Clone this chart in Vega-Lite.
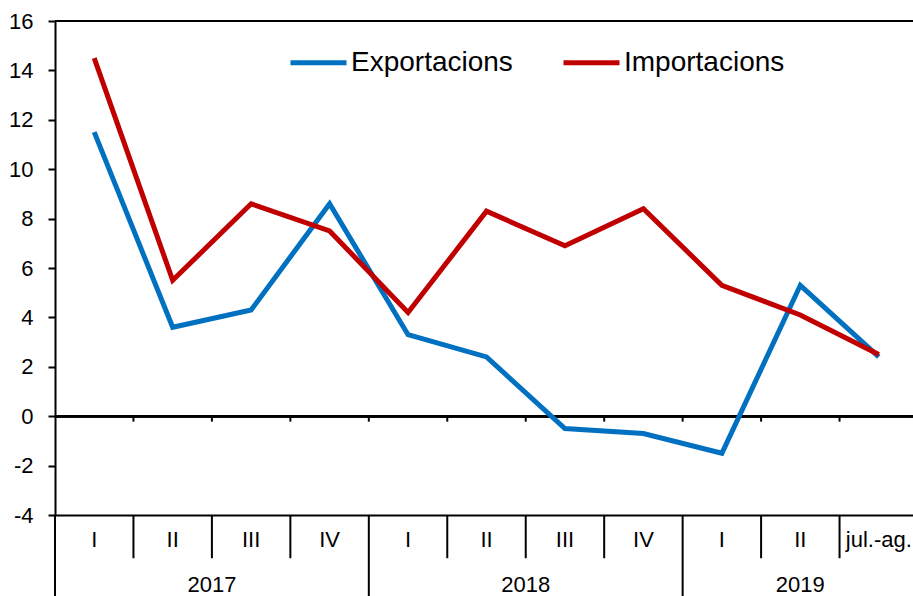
{
  "$schema": "https://vega.github.io/schema/vega-lite/v6.json",
  "width": 858,
  "height": 494,
  "autosize": {"type": "none"},
  "padding": {"left": 55, "top": 21, "right": 0, "bottom": 81},
  "background": "white",
  "config": {
    "view": {"stroke": null},
    "font": "Liberation Sans",
    "axis": {"domainColor": "black", "domainWidth": 2, "labelColor": "black", "labelFont": "Liberation Sans", "labelFontSize": 22, "grid": false, "title": null},
    "axisX": {"ticks": false, "labelPadding": 14, "labelAngle": 0, "labelOverlap": false},
    "axisY": {"tickSize": 7, "tickColor": "black", "tickWidth": 2, "labelPadding": 15}
  },
  "data": {
    "values": [
      {"cat": "2017|I", "year": "2017", "q": "I", "Exportacions": 11.5, "Importacions": 14.5},
      {"cat": "2017|II", "year": "2017", "q": "II", "Exportacions": 3.6, "Importacions": 5.5},
      {"cat": "2017|III", "year": "2017", "q": "III", "Exportacions": 4.3, "Importacions": 8.6},
      {"cat": "2017|IV", "year": "2017", "q": "IV", "Exportacions": 8.6, "Importacions": 7.5},
      {"cat": "2018|I", "year": "2018", "q": "I", "Exportacions": 3.3, "Importacions": 4.2},
      {"cat": "2018|II", "year": "2018", "q": "II", "Exportacions": 2.4, "Importacions": 8.3},
      {"cat": "2018|III", "year": "2018", "q": "III", "Exportacions": -0.5, "Importacions": 6.9},
      {"cat": "2018|IV", "year": "2018", "q": "IV", "Exportacions": -0.7, "Importacions": 8.4},
      {"cat": "2019|I", "year": "2019", "q": "I", "Exportacions": -1.5, "Importacions": 5.3},
      {"cat": "2019|II", "year": "2019", "q": "II", "Exportacions": 5.3, "Importacions": 4.1},
      {"cat": "2019|jul.-ag.", "year": "2019", "q": "jul.-ag.", "Exportacions": 2.4, "Importacions": 2.5}
    ]
  },
  "layer": [
    {
      "mark": {"type": "rule", "color": "black", "strokeWidth": 2},
      "encoding": {"y": {"datum": 16, "type": "quantitative"}}
    },
    {
      "mark": {"type": "rule", "color": "black", "strokeWidth": 2},
      "encoding": {"y": {"datum": 0, "type": "quantitative"}}
    },
    {
      "transform": [{"filter": "datum.cat != '2017|I'"}],
      "mark": {"type": "rule", "color": "black", "strokeWidth": 2},
      "encoding": {
        "x": {"field": "cat", "type": "nominal", "bandPosition": 0, "sort": null, "title": null,
          "scale": {"type": "band", "paddingInner": 0, "paddingOuter": 0, "range": [0, 863],
            "domain": ["2017|I", "2017|II", "2017|III", "2017|IV", "2018|I", "2018|II", "2018|III", "2018|IV", "2019|I", "2019|II", "2019|jul.-ag."]}},
        "y": {"datum": 0, "type": "quantitative"},
        "y2": {"datum": -0.22}
      }
    },
    {
      "transform": [{"filter": "datum.q != 'I'"}],
      "mark": {"type": "rule", "color": "black", "strokeWidth": 2},
      "encoding": {
        "x": {"field": "cat", "type": "nominal", "bandPosition": 0, "sort": null, "title": null},
        "y": {"datum": -4, "type": "quantitative"},
        "y2": {"datum": -5.75}
      }
    },
    {
      "transform": [{"filter": "datum.q == 'I'"}],
      "mark": {"type": "rule", "color": "black", "strokeWidth": 2},
      "encoding": {
        "x": {"field": "cat", "type": "nominal", "bandPosition": 0, "sort": null, "title": null},
        "y": {"datum": -4, "type": "quantitative"},
        "y2": {"datum": -7.4}
      }
    },
    {
      "transform": [{"filter": "datum.cat == '2017|II' || datum.cat == '2018|II'"}],
      "mark": {"type": "text", "fontSize": 22, "color": "black", "baseline": "middle", "align": "center"},
      "encoding": {
        "x": {"field": "cat", "type": "nominal", "bandPosition": 1, "sort": null, "title": null},
        "y": {"datum": -6.85, "type": "quantitative"},
        "text": {"field": "year"}
      }
    },
    {
      "transform": [{"filter": "datum.cat == '2019|II'"}],
      "mark": {"type": "text", "fontSize": 22, "color": "black", "baseline": "middle", "align": "center"},
      "encoding": {
        "x": {"field": "cat", "type": "nominal", "bandPosition": 0.5, "sort": null, "title": null},
        "y": {"datum": -6.85, "type": "quantitative"},
        "text": {"field": "year"}
      }
    },
    {
      "transform": [{"fold": ["Exportacions", "Importacions"], "as": ["serie", "valor"]}],
      "mark": {"type": "line", "strokeWidth": 5, "strokeJoin": "miter", "strokeCap": "butt"},
      "encoding": {
        "x": {"field": "cat", "type": "nominal", "sort": null, "title": null, "axis": {"labelExpr": "split(datum.value, '|')[1]"}},
        "y": {"field": "valor", "type": "quantitative", "title": null, "scale": {"domain": [-4, 16], "nice": false, "zero": false}, "axis": {"values": [-4, -2, 0, 2, 4, 6, 8, 10, 12, 14, 16], "labelExpr": "'' + datum.value"}},
        "color": {
          "field": "serie", "type": "nominal",
          "scale": {"domain": ["Exportacions", "Importacions"], "range": ["#0070C0", "#C00000"]},
          "legend": {"title": null, "orient": "none", "legendX": 233, "legendY": 11, "direction": "horizontal", "symbolType": "stroke", "symbolSize": 3136, "symbolStrokeWidth": 5, "labelFontSize": 28, "labelFont": "Liberation Sans", "labelColor": "black", "labelOffset": 2, "columnPadding": 40, "labelLimit": 400}
        }
      }
    }
  ]
}
